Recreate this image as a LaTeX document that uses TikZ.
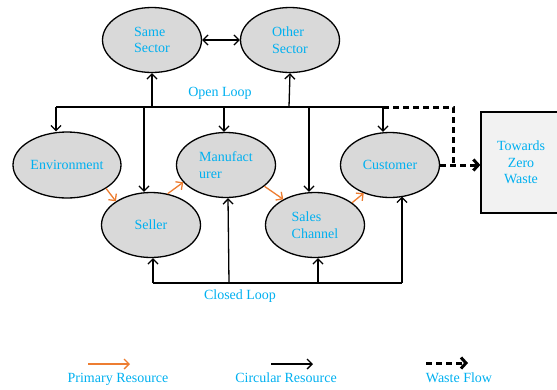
\documentclass[tikz,border=0pt]{standalone}
\usepackage{fontspec}
\setmainfont{Liberation Serif}
\usetikzlibrary{shapes.geometric, arrows.meta}

\definecolor{txtblue}{RGB}{0,176,240}
\definecolor{primorange}{RGB}{237,125,49}
\definecolor{ellgray}{RGB}{217,217,217}
\definecolor{boxgray}{RGB}{242,242,242}

\tikzset{
  lbl/.style={text=txtblue, font=\fontsize{14}{16.5}\selectfont},
  actor/.style={ellipse, draw, line width=1.3pt, fill=ellgray, minimum width=99pt,
    minimum height=65pt, inner sep=0pt, align=left, lbl},
  tip/.style={-{Straight Barb[length=5pt,width=10pt,line width=1.3pt]}},
  circ/.style={line width=1.3pt, tip},
  dbl/.style={line width=1.3pt, {Straight Barb[length=5pt,width=10pt]}-{Straight Barb[length=5pt,width=10pt]}},
  prim/.style={primorange, line width=1.3pt, tip},
  wline/.style={line width=3pt, dash pattern=on 6pt off 4pt},
  waste/.style={wline, -{Straight Barb[length=5pt,width=11pt]}}
}

\begin{document}
\begin{tikzpicture}[x=1pt, y=-1pt]
    \useasboundingbox (0,0) rectangle (557,389);

    % Sectors
    \node[actor] (same) at (152,40) {Same\\Sector};
    \node[actor] (other) at (290,40) {Other\\Sector};
    \draw[dbl] (same) -- (other);

    % Chain
    \node[actor, minimum width=108pt, minimum height=66pt] (env) at (67,165) {Environment};
    \node[actor] (seller) at (151,225) {Seller};
    \node[actor] (manu) at (226,165) {Manufact\\urer};
    \node[actor] (sales) at (315,225) {Sales\\Channel};
    \node[actor] (cust) at (390,165) {Customer};

    % Waste box
    \node[draw, line width=1.3pt, fill=boxgray, minimum width=80pt, minimum height=101pt,
      align=center, lbl] (zero) at (521,162.5) {Towards\\Zero\\Waste};

    % Primary resource
    \draw[prim] (env.-31) -- (seller.146);
    \draw[prim] (seller.62) -- (manu.202);
    \draw[prim] (manu.-29) -- (sales.141);
    \draw[prim] (sales.31) -- (cust.227);

    % Open loop
    \coordinate (o1) at (56,107);
    \coordinate (o2) at (144,107);
    \coordinate (o3) at (152,107);
    \coordinate (o4) at (224,107);
    \coordinate (o5) at (289,107);
    \coordinate (o6) at (309,107);
    \coordinate (o7) at (383,107);
    \draw[line width=1.3pt] (o1) -- (o7);
    \draw[circ] (o1) -- (o1 |- env.north);
    \draw[circ] (o2) -- (o2 |- seller.north);
    \draw[circ] (o3) -- (same.south);
    \draw[circ] (o4) -- (o4 |- manu.north);
    \draw[circ] (o5) -- (other.south);
    \draw[circ] (o6) -- (o6 |- sales.north);
    \draw[circ] (o7) -- (o7 |- cust.north);
    \node[lbl] (open) at (220,93) {Open Loop};

    % Waste flow
    \coordinate (wk) at (453,107);
    \draw[wline] (o7) -- (wk) -- (wk |- cust.east);
    \draw[waste] (cust.east) -- (cust.east -| zero.west);

    % Closed loop
    \coordinate (c1) at (153,283);
    \coordinate (c2) at (229,283);
    \coordinate (c3) at (318,283);
    \coordinate (c4) at (402,283);
    \draw[line width=1.3pt] (c1) -- (c4);
    \draw[circ] (c1) -- (c1 |- seller.south);
    \draw[circ] (c2) -- ([xshift=2pt]manu.south);
    \draw[circ] (c3) -- (c3 |- sales.south);
    \draw[circ] (c4) -- ([xshift=12pt,yshift=1.5pt]cust.south);
    \node[lbl] (closed) at (240,296) {Closed Loop};

    % Legend
    \coordinate (p1) at (88,364);   \coordinate (p2) at (130,364);
    \coordinate (k1) at (271,364);  \coordinate (k2) at (313,364);
    \coordinate (w1) at (426,363);  \coordinate (w2) at (468,363);
    \draw[prim] (p1) -- (p2);
    \draw[circ] (k1) -- (k2);
    \draw[waste] (w1) -- (w2);
    \node[lbl] (lp) at (118,379) {Primary Resource};
    \node[lbl] (lk) at (286,378) {Circular Resource};
    \node[lbl] (lw) at (459,378) {Waste Flow};
\end{tikzpicture}
\end{document}
